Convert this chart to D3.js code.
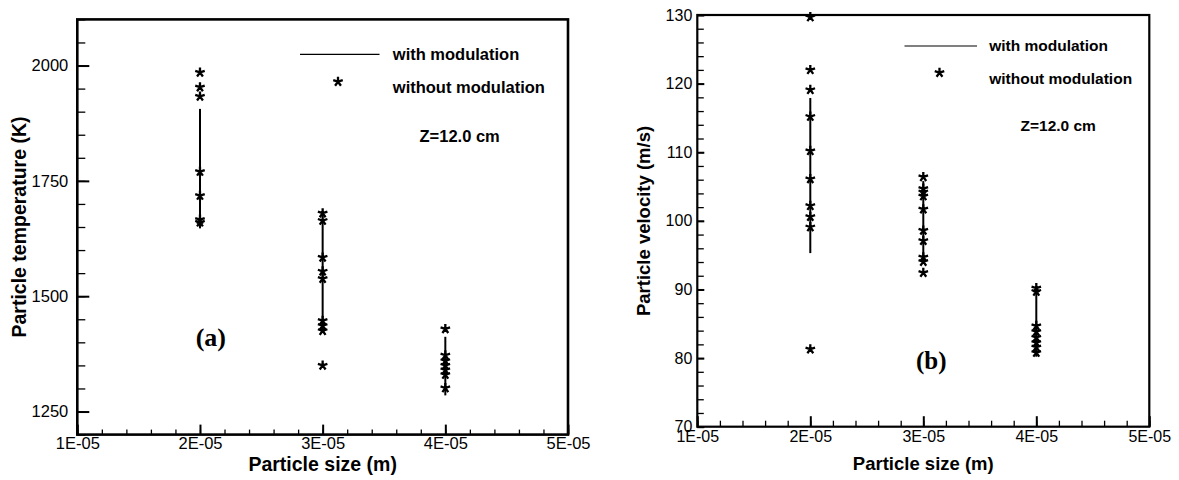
<!DOCTYPE html>
<html lang="en">
<head>
<meta charset="utf-8">
<title>Particle temperature and velocity</title>
<script src="https://cdn.jsdelivr.net/npm/d3@7"></script>
<style>
  body { margin: 0; background: #fff; }
  svg text { font-family: "Liberation Sans", Arial, Helvetica, sans-serif; fill: #000; }
</style>
</head>
<body>
<div id="chart"></div>
<script>
// particle sizes (m)
var sizes = [2e-5, 3e-5, 4e-5];
var sizeTicks = [1e-5, 2e-5, 3e-5, 4e-5, 5e-5];
var sizeLabels = ["1E-05", "2E-05", "3E-05", "4E-05", "5E-05"];

// (a) particle temperature (K): with modulation = range of the line, without = stars
var tempWith = [[1647, 1906], [1425, 1665], [1285, 1412]];
var tempWithout = [
  [1985, 1953, 1933, 1770, 1718, 1666, 1660],
  [1680, 1664, 1584, 1554, 1538, 1447, 1436, 1425, 1350],
  [1429, 1372, 1360, 1350, 1340, 1330, 1301]
];
var tempTicks = [1250, 1500, 1750, 2000];

// (b) particle velocity (m/s)
var velWith = [[95.3, 117.9], [93.8, 105.8], [80.2, 89.9]];
var velWithout = [
  [129.7, 122.0, 119.1, 115.2, 110.2, 106.1, 102.2, 100.6, 99.1, 81.3],
  [106.4, 104.7, 104.2, 103.6, 101.7, 98.6, 97.1, 94.7, 94.05, 92.45],
  [90.2, 89.7, 84.7, 83.85, 83.0, 82.25, 81.6, 80.8]
];
var velTicks = [70, 80, 90, 100, 110, 120, 130];

var svg = d3.select("#chart").append("svg")
  .attr("width", 1179).attr("height", 480);

// five armed asterisk like the plotting package uses
function starPath(r) {
  var p = "";
  for (var k = 0; k < 5; k++) {
    var a = -Math.PI / 2 + k * 2 * Math.PI / 5;
    p += "M0,0L" + (r * Math.cos(a)).toFixed(2) + "," + (r * Math.sin(a)).toFixed(2);
  }
  return p;
}

function panel(o) {
  var g = svg.append("g");
  var x = d3.scaleLinear().domain([1e-5, 5e-5]).range([o.left, o.right]);
  var y = d3.scaleLinear().domain(o.ydom).range([o.bottom, o.top]);

  // minor ticks
  var xMinor = d3.range(1e-5, 5e-5 + 1e-12, 0.2e-5);
  g.append("g").attr("transform", "translate(0," + o.bottom + ")")
    .call(d3.axisBottom(x).tickValues(xMinor).tickSize(-o.xMinorLen).tickFormat(""))
    .call(function(s){ s.select(".domain").remove(); s.selectAll("line").attr("stroke-width", 1.3); });
  g.append("g").attr("transform", "translate(" + o.left + ",0)")
    .call(d3.axisLeft(y).tickValues(d3.range(o.ydom[0], o.ydom[1] + 1e-9, o.yMinorStep)).tickSize(-o.yMinorLen).tickFormat(""))
    .call(function(s){ s.select(".domain").remove(); s.selectAll("line").attr("stroke-width", 1.3); });

  // major ticks with labels
  g.append("g").attr("transform", "translate(0," + o.bottom + ")")
    .call(d3.axisBottom(x).tickValues(sizeTicks).tickSize(-o.xMajorLen).tickPadding(o.xPad)
      .tickFormat(function(d, i){ return sizeLabels[i]; }))
    .call(function(s){
      s.select(".domain").remove();
      s.selectAll("line").attr("stroke-width", 2);
      s.selectAll("text").style("font-size", o.tickFont + "px");
    });
  g.append("g").attr("transform", "translate(" + o.left + ",0)")
    .call(d3.axisLeft(y).tickValues(o.yticks).tickSize(-o.yMajorLen).tickPadding(o.yPad).tickFormat(d3.format("d")))
    .call(function(s){
      s.select(".domain").remove();
      s.selectAll("line").attr("stroke-width", 2);
      s.selectAll("text").style("font-size", o.tickFont + "px");
    });

  // frame
  g.append("rect")
    .attr("x", o.left).attr("y", o.top)
    .attr("width", o.right - o.left).attr("height", o.bottom - o.top)
    .attr("fill", "none").attr("stroke", "#000").attr("stroke-width", o.frameW);

  // with modulation: vertical lines
  g.selectAll("line.with").data(o.withData).enter().append("line")
    .attr("class", "with")
    .attr("x1", function(d, i){ return x(sizes[i]); })
    .attr("x2", function(d, i){ return x(sizes[i]); })
    .attr("y1", function(d){ return y(d[0]); })
    .attr("y2", function(d){ return y(d[1]); })
    .attr("stroke", "#000").attr("stroke-width", 2);

  // without modulation: stars
  var pts = [];
  o.withoutData.forEach(function(col, i){
    col.forEach(function(v){ pts.push({s: sizes[i], v: v}); });
  });
  g.selectAll("path.star").data(pts).enter().append("path")
    .attr("class", "star")
    .attr("transform", function(d){ return "translate(" + x(d.s) + "," + y(d.v) + ")"; })
    .attr("d", starPath(5))
    .attr("fill", "none").attr("stroke", "#000").attr("stroke-width", 2.3);

  // legend
  g.append("line").attr("x1", o.legX1).attr("x2", o.legX2)
    .attr("y1", o.legY).attr("y2", o.legY).attr("stroke", "#000").attr("stroke-width", 1.2);
  g.append("text").attr("x", o.legTx).attr("y", o.legY).attr("dy", "0.35em")
    .style("font-size", o.legFont + "px").attr("font-weight", "bold").text("with modulation");
  g.append("path").attr("transform", "translate(" + o.legStarX + "," + o.legStarY + ")")
    .attr("d", starPath(5)).attr("fill", "none").attr("stroke", "#000").attr("stroke-width", 2.3);
  g.append("text").attr("x", o.legTx).attr("y", o.legY2).attr("dy", "0.35em")
    .style("font-size", o.legFont + "px").attr("font-weight", "bold").text("without modulation");
  g.append("text").attr("x", o.zx).attr("y", o.zy).attr("dy", "0.35em")
    .style("font-size", o.legFont + "px").attr("font-weight", "bold").text("Z=12.0 cm");

  // panel letter
  g.append("text").attr("x", o.tagX).attr("y", o.tagY).attr("dy", "0.35em")
    .style("font-size", o.tagFont + "px").attr("font-weight", "bold")
    .style("font-family", "'Liberation Serif', 'Times New Roman', serif")
    .text(o.tag);

  // axis titles
  g.append("text").attr("x", (o.left + o.right) / 2).attr("y", o.xtY)
    .attr("text-anchor", "middle").style("font-size", o.titleFont + "px").attr("font-weight", "bold")
    .text("Particle size (m)");
  g.append("text")
    .attr("transform", "translate(" + o.ytX + "," + o.ytY + ") rotate(-90)")
    .attr("text-anchor", "middle").attr("dy", "0.35em")
    .style("font-size", o.titleFont + "px").attr("font-weight", "bold")
    .text(o.ytitle);
}

panel({
  left: 77.3, right: 568, top: 19.4, bottom: 434.6,
  ydom: [1200, 2100], yticks: tempTicks, yMinorStep: 50,
  xMinorLen: 5, xMajorLen: 10, yMinorLen: 8, yMajorLen: 12,
  xPad: 3, yPad: 9, tickFont: 16.5, frameW: 2.6,
  withData: tempWith, withoutData: tempWithout,
  legX1: 300, legX2: 379.5, legY: 54.3, legTx: 392.8, legStarX: 338, legStarY: 81.7, legY2: 87.7,
  legFont: 16.5, zx: 419.5, zy: 136.7,
  tag: "(a)", tagX: 195.7, tagY: 337, tagFont: 26,
  xtY: 471, ytX: 18.7, ytY: 227, titleFont: 19.5, ytitle: "Particle temperature (K)"
});

panel({
  left: 697.3, right: 1149.3, top: 15, bottom: 426.7,
  ydom: [70, 130], yticks: velTicks, yMinorStep: 2,
  xMinorLen: 6, xMajorLen: 10.5, yMinorLen: 6.5, yMajorLen: 7,
  xPad: 4, yPad: 5, tickFont: 16, frameW: 2.2,
  withData: velWith, withoutData: velWithout,
  legX1: 904.5, legX2: 977, legY: 46, legTx: 989.2, legStarX: 939.5, legStarY: 72.7, legY2: 78.7,
  legFont: 15.5, zx: 1020.5, zy: 126,
  tag: "(b)", tagX: 916, tagY: 360, tagFont: 25,
  xtY: 470, ytX: 643.8, ytY: 221, titleFont: 18.5, ytitle: "Particle velocity (m/s)"
});
</script>
</body>
</html>
